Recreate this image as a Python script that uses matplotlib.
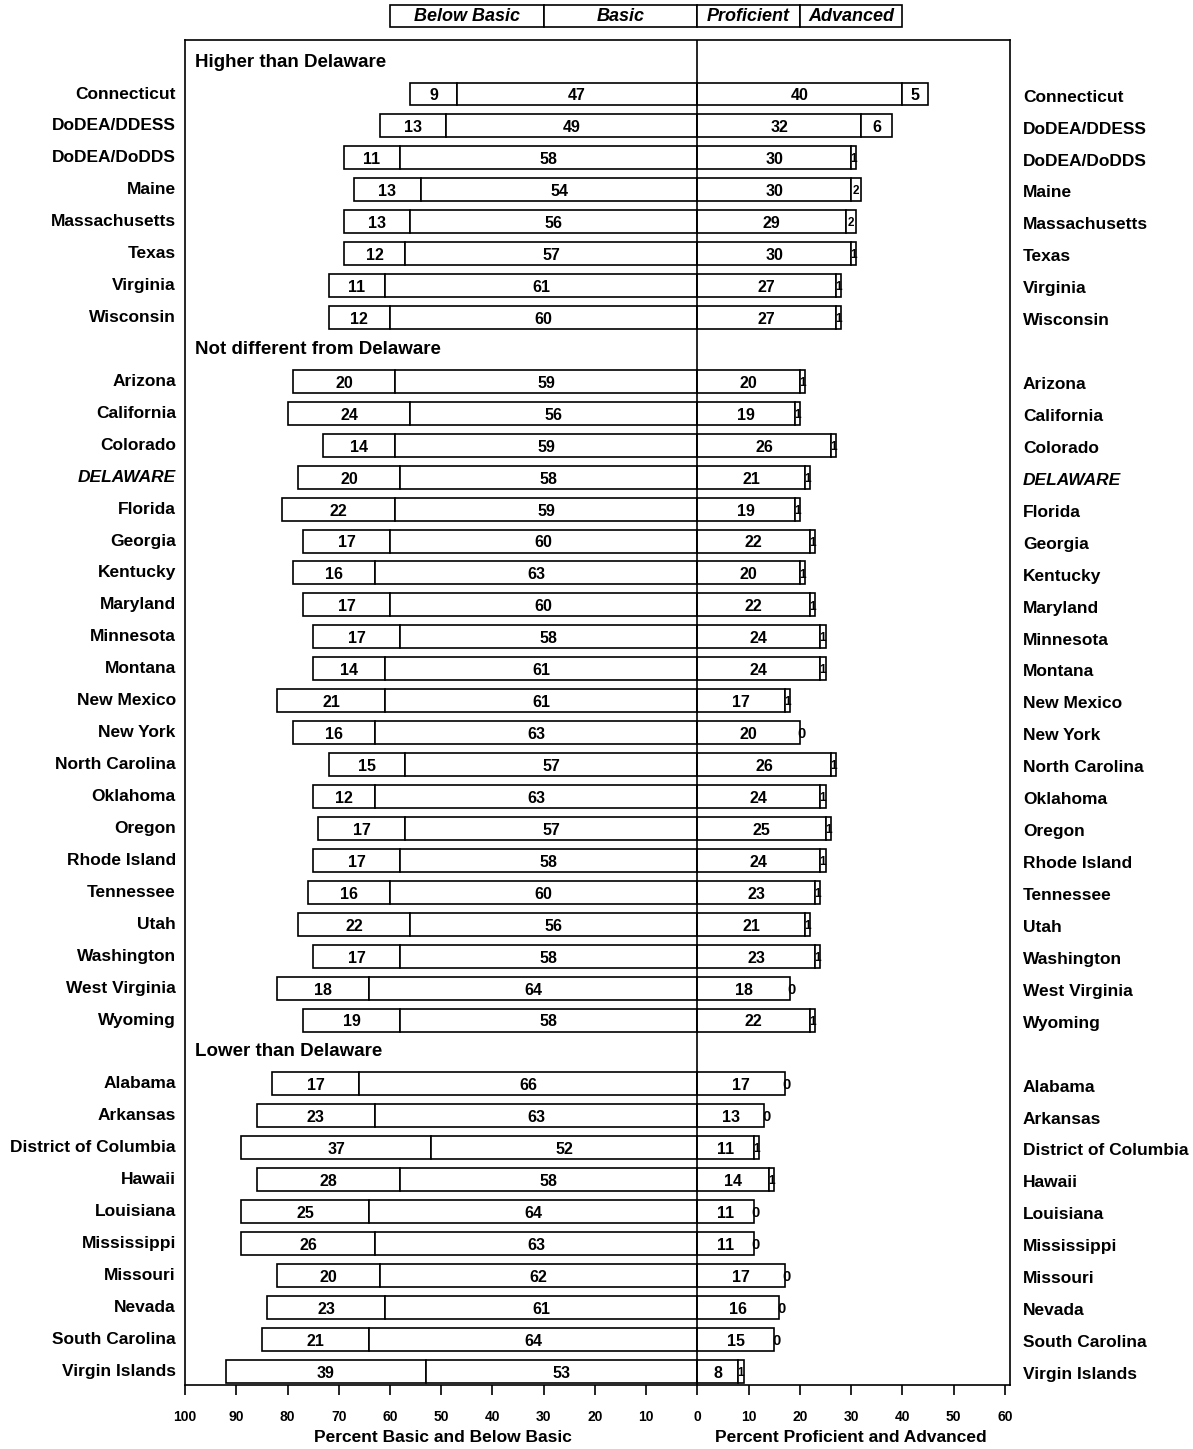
import numpy as np
import matplotlib
matplotlib.use("Agg")
import matplotlib.pyplot as plt
from matplotlib import patches

plt.rcParams['font.family'] = ['Liberation Sans', 'DejaVu Sans']

groups = ['Higher than Delaware', 'Not different from Delaware', 'Lower than Delaware']

states = [
    ['Connecticut', 'DoDEA/DDESS', 'DoDEA/DoDDS', 'Maine', 'Massachusetts',
     'Texas', 'Virginia', 'Wisconsin'],
    ['Arizona', 'California', 'Colorado', 'DELAWARE', 'Florida', 'Georgia',
     'Kentucky', 'Maryland', 'Minnesota', 'Montana', 'New Mexico', 'New York',
     'North Carolina', 'Oklahoma', 'Oregon', 'Rhode Island', 'Tennessee',
     'Utah', 'Washington', 'West Virginia', 'Wyoming'],
    ['Alabama', 'Arkansas', 'District of Columbia', 'Hawaii', 'Louisiana',
     'Mississippi', 'Missouri', 'Nevada', 'South Carolina', 'Virgin Islands'],
]

below_basic = [
    [9, 13, 11, 13, 13, 12, 11, 12],
    [20, 24, 14, 20, 22, 17, 16, 17, 17, 14, 21, 16, 15, 12, 17, 17, 16, 22, 17, 18, 19],
    [17, 23, 37, 28, 25, 26, 20, 23, 21, 39],
]
basic = [
    [47, 49, 58, 54, 56, 57, 61, 60],
    [59, 56, 59, 58, 59, 60, 63, 60, 58, 61, 61, 63, 57, 63, 57, 58, 60, 56, 58, 64, 58],
    [66, 63, 52, 58, 64, 63, 62, 61, 64, 53],
]
proficient = [
    [40, 32, 30, 30, 29, 30, 27, 27],
    [20, 19, 26, 21, 19, 22, 20, 22, 24, 24, 17, 20, 26, 24, 25, 24, 23, 21, 23, 18, 22],
    [17, 13, 11, 14, 11, 11, 17, 16, 15, 8],
]
advanced = [
    [5, 6, 1, 2, 2, 1, 1, 1],
    [1, 1, 1, 1, 1, 1, 1, 1, 1, 1, 1, 0, 1, 1, 1, 1, 1, 1, 1, 0, 1],
    [0, 0, 1, 1, 0, 0, 0, 0, 0, 1],
]

fig = plt.figure(figsize=(11.93, 14.49), dpi=100)
ax = fig.add_axes([0.1551, 0.04417, 0.6915, 0.9282])

bh = 0.72
lab_kw = dict(fontsize=11.5, fontweight='bold', va='center', ha='center')
row = 0
for g in range(len(groups)):
    ax.text(-98, row, groups[g], fontsize=13.5, fontweight='bold',
            ha='left', va='center')
    row += 1
    for name, bb, b, p, a in zip(states[g], below_basic[g], basic[g],
                                 proficient[g], advanced[g]):
        ax.barh(row, bb, left=-(bb + b), height=bh, color='white',
                edgecolor='black', linewidth=1.2)
        ax.barh(row, b, left=-b, height=bh, color='white',
                edgecolor='black', linewidth=1.2)
        ax.barh(row, p, left=0, height=bh, color='white',
                edgecolor='black', linewidth=1.2)
        if a > 0:
            ax.barh(row, a, left=p, height=bh, color='white',
                    edgecolor='black', linewidth=1.2)
        ax.text(-(b + bb / 2), row + 0.06, str(bb), **lab_kw)
        ax.text(-b / 2, row + 0.06, str(b), **lab_kw)
        ax.text(p / 2, row + 0.06, str(p), **lab_kw)
        if a >= 3:
            ax.text(p + a / 2, row + 0.06, str(a), **lab_kw)
        elif a > 0:
            ax.text(p + a / 2, row + 0.05, str(a), fontsize=8.5,
                    fontweight='bold', ha='center', va='center')
        else:
            ax.text(p + 0.4, row + 0.05, '0', fontsize=10.5, fontweight='bold',
                    ha='center', va='center')
        style = 'italic' if name == 'DELAWARE' else 'normal'
        ax.text(-101.8, row, name, fontsize=12.5, fontweight='bold',
                style=style, ha='right', va='center', clip_on=False)
        ax.text(63.5, row + 0.1, name, fontsize=12.5, fontweight='bold',
                style=style, ha='left', va='center', clip_on=False)
        row += 1

ax.axvline(0, color='black', linewidth=1.2)
ax.set_xlim(-100, 61)
ax.set_ylim(41.43, -0.69)
ax.set_yticks([])
ticks = np.arange(-100, 61, 10)
ax.set_xticks(ticks)
ax.set_xticklabels([str(abs(t)) for t in ticks], fontsize=10,
                   fontweight='bold')
ax.tick_params(axis='x', direction='out', length=7, width=1.2, pad=11)
for s in ax.spines.values():
    s.set_linewidth(1.2)

ax.text(-49.6, 41.43 + 1.65, 'Percent Basic and Below Basic', fontsize=12.5,
        fontweight='bold', ha='center', va='center', clip_on=False)
ax.text(29.9, 41.43 + 1.65, 'Percent Proficient and Advanced', fontsize=12.5,
        fontweight='bold', ha='center', va='center', clip_on=False)

# legend boxes on top
leg = [(-60, 30, 'Below Basic'), (-30, 30, 'Basic'),
       (0, 20, 'Proficient'), (20, 20, 'Advanced')]
for x0, w, txt in leg:
    ax.add_patch(patches.Rectangle((x0, -1.1), w, -0.69, facecolor='white',
                                   edgecolor='black', linewidth=1.2,
                                   clip_on=False))
    ax.text(x0 + w / 2, -1.44, txt, fontsize=13, fontweight='bold',
            style='italic', ha='center', va='center', clip_on=False)

fig.savefig('out.png', dpi=100)
